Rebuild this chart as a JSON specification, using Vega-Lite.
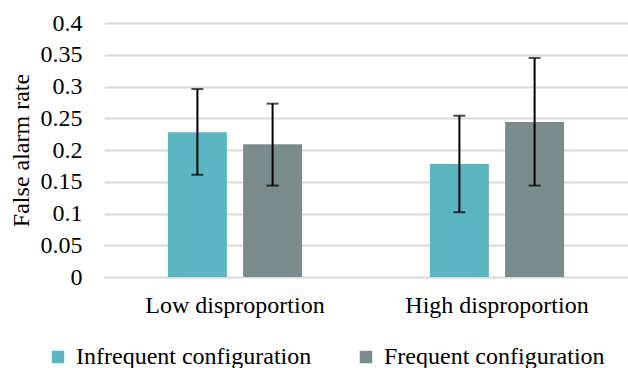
{
  "$schema": "https://vega.github.io/schema/vega-lite/v6.json",
  "width": 524,
  "height": 254,
  "autosize": {"type": "none"},
  "padding": {"left": 104, "top": 23, "right": 0, "bottom": 91},
  "background": "white",
  "config": {
    "view": {"stroke": null},
    "font": "Liberation Serif",
    "axis": {"labelFont": "Liberation Serif", "titleFont": "Liberation Serif", "labelColor": "#000000", "titleColor": "#000000", "labelOverlap": false},
    "legend": {"labelFont": "Liberation Serif", "titleFont": "Liberation Serif", "labelColor": "#000000"}
  },
  "data": {
    "values": [
      {"group": "Low disproportion", "config": "Infrequent configuration", "value": 0.228, "lo": 0.161, "hi": 0.296},
      {"group": "Low disproportion", "config": "Frequent configuration", "value": 0.209, "lo": 0.144, "hi": 0.273},
      {"group": "High disproportion", "config": "Infrequent configuration", "value": 0.178, "lo": 0.102, "hi": 0.254},
      {"group": "High disproportion", "config": "Frequent configuration", "value": 0.244, "lo": 0.144, "hi": 0.345}
    ]
  },
  "resolve": {"axis": {"y": "independent"}},
  "encoding": {
    "x": {
      "field": "group", "type": "nominal",
      "sort": ["Low disproportion", "High disproportion"],
      "scale": {"paddingInner": 0.488, "paddingOuter": 0.244},
      "axis": {"title": null, "labelAngle": 0, "labelFont": "Liberation Serif", "labelFontSize": 24, "labelLimit": 400, "ticks": false, "tickSize": 0, "domain": false, "labelPadding": 16, "grid": false}
    },
    "xOffset": {
      "field": "config", "type": "nominal",
      "sort": ["Infrequent configuration", "Frequent configuration"],
      "scale": {"paddingInner": 0.216, "paddingOuter": 0}
    }
  },
  "layer": [
    {
      "mark": {"type": "bar"},
      "encoding": {
        "y": {
          "field": "value", "type": "quantitative",
          "scale": {"domain": [0, 0.4], "nice": false},
          "axis": {
            "title": "False alarm rate",
            "values": [0, 0.05, 0.1, 0.15, 0.2, 0.25, 0.3, 0.35, 0.4],
            "format": ".2~f",
            "labelOverlap": false,
            "labelFont": "Liberation Serif", "titleFont": "Liberation Serif",
            "labelFontSize": 24, "titleFontSize": 24, "titleFontWeight": "normal",
            "ticks": false, "tickSize": 0, "domain": false, "labelPadding": 22,
            "gridColor": "#d9d9d9", "gridWidth": 2,
            "titleAngle": -90, "titleX": -76, "titleY": 127, "titleBaseline": "alphabetic", "titleAlign": "center"
          }
        },
        "color": {
          "field": "config", "type": "nominal",
          "sort": ["Infrequent configuration", "Frequent configuration"],
          "scale": {"domain": ["Infrequent configuration", "Frequent configuration"], "range": ["#5bb6c1", "#7a8b8c"]},
          "legend": {
            "title": null, "orient": "none", "direction": "horizontal",
            "legendX": -58, "legendY": 322,
            "labelFont": "Liberation Serif",
            "labelFontSize": 24, "symbolType": "square", "symbolSize": 156,
            "symbolStrokeWidth": 0, "labelOffset": 6, "columnPadding": 42, "padding": 0, "labelLimit": 400
          }
        }
      }
    },
    {
      "mark": {"type": "rule", "color": "#000000", "strokeWidth": 2},
      "encoding": {
        "y": {"field": "lo", "type": "quantitative", "axis": null},
        "y2": {"field": "hi"}
      }
    },
    {
      "mark": {"type": "tick", "color": "#000000", "thickness": 2, "size": 12, "orient": "horizontal"},
      "encoding": {
        "y": {"field": "lo", "type": "quantitative", "axis": null}
      }
    },
    {
      "mark": {"type": "tick", "color": "#000000", "thickness": 2, "size": 12, "orient": "horizontal"},
      "encoding": {
        "y": {"field": "hi", "type": "quantitative", "axis": null}
      }
    }
  ]
}
